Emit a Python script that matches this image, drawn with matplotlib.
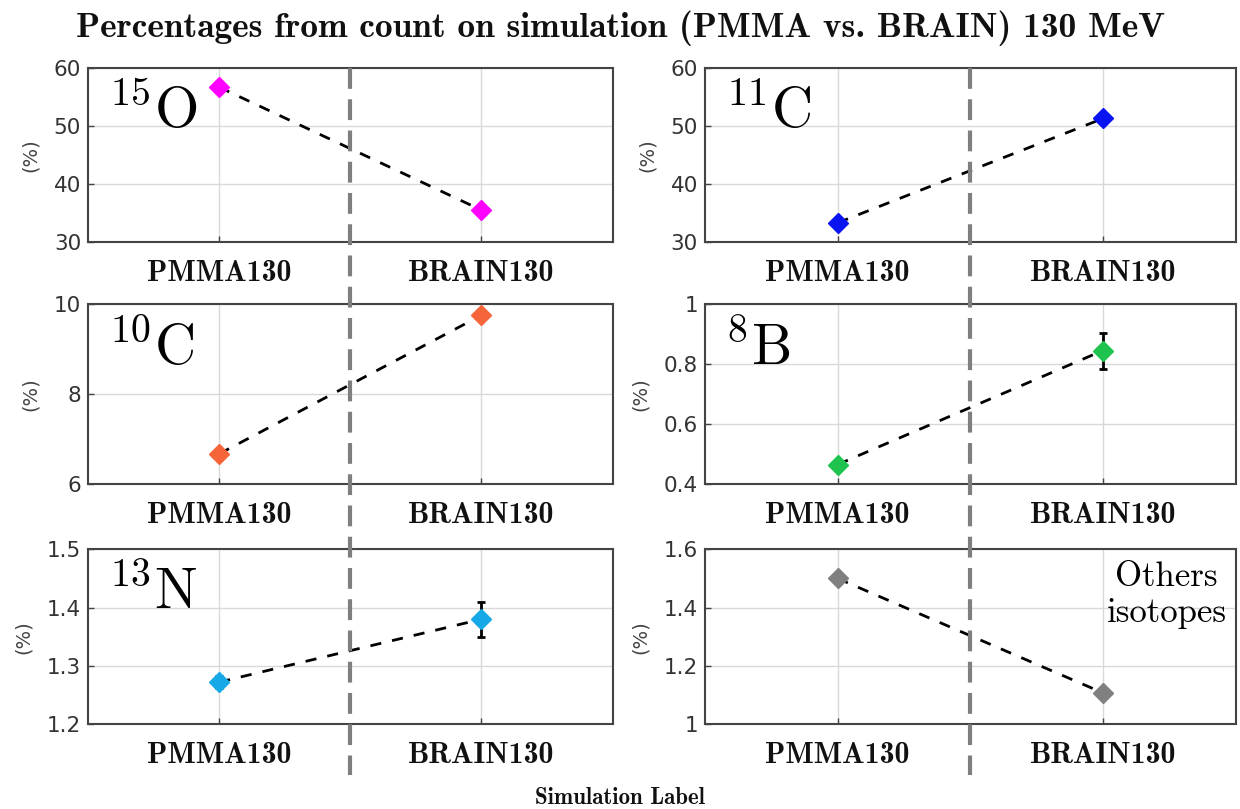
import numpy as np
import matplotlib
matplotlib.use("Agg")
import matplotlib.pyplot as plt
from matplotlib.lines import Line2D
from matplotlib.transforms import blended_transform_factory

plt.rcParams['mathtext.fontset'] = 'cm'
plt.rcParams['font.family'] = 'DejaVu Sans'

labels = ['PMMA130', 'BRAIN130']
isotopes = [r'${}^{15}\mathrm{O}$', r'${}^{11}\mathrm{C}$', r'${}^{10}\mathrm{C}$',
            r'${}^{8}\mathrm{B}$', r'${}^{13}\mathrm{N}$', 'Others\nisotopes']

o15 = [56.7, 35.5]
c11 = [33.3, 51.3]
c10 = [6.67, 9.75]
b8 = [0.465, 0.845]
n13 = [1.272, 1.38]
others = [1.50, 1.107]

o15_err = [0.0, 0.0]
c11_err = [0.0, 0.0]
c10_err = [0.0, 0.0]
b8_err = [0.01, 0.06]
n13_err = [0.01, 0.03]
others_err = [0.0, 0.0]

values = [o15, c11, c10, b8, n13, others]
errors = [o15_err, c11_err, c10_err, b8_err, n13_err, others_err]
colors = ['#ff00ff', '#0a14f0', '#f6643a', '#1fc44e', '#16a9e8', '#808080']
ylims = [(30, 60), (30, 60), (6, 10), (0.4, 1), (1.2, 1.5), (1, 1.6)]
yticks = [[30, 40, 50, 60], [30, 40, 50, 60], [6, 8, 10],
          [0.4, 0.6, 0.8, 1], [1.2, 1.3, 1.4, 1.5], [1, 1.2, 1.4, 1.6]]
ytick_labels = [['30', '40', '50', '60'], ['30', '40', '50', '60'], ['6', '8', '10'],
                ['0.4', '0.6', '0.8', '1'], ['1.2', '1.3', '1.4', '1.5'], ['1', '1.2', '1.4', '1.6']]

fig = plt.figure(figsize=(12.4, 8.09), dpi=100)

# axes boxes in figure fractions: [left, bottom, width, height]
cols = [(0.071, 0.423), (0.5685, 0.428)]
rows = [(0.7009, 0.215), (0.4017, 0.2225), (0.105, 0.216)]

x = np.array([1, 2])
axes = []
for i in range(6):
    r, c = divmod(i, 2)
    ax = fig.add_axes([cols[c][0], rows[r][0], cols[c][1], rows[r][1]])
    axes.append(ax)
    ax.plot(x, values[i], '--', color='black', lw=2, dashes=(4, 4), zorder=3)
    ax.errorbar(x, values[i], yerr=errors[i], fmt='D', color=colors[i], ms=10,
                ecolor='black', elinewidth=2, capsize=3, capthick=2, zorder=4)
    ax.set_xlim(0.5, 2.5)
    ax.set_ylim(*ylims[i])
    ax.set_xticks(x)
    ax.set_xticklabels(labels, fontfamily='cmb10', fontsize=21.5, color='#111111')
    ax.set_yticks(yticks[i])
    ax.set_yticklabels(ytick_labels[i], fontsize=15.5, color='#333333')
    ax.tick_params(axis='both', direction='in', length=4, color='#444444', width=1)
    ax.tick_params(axis='x', pad=13)
    ax.tick_params(axis='y', pad=5)
    ax.grid(True, color='#d9d9d9', lw=1)
    ax.set_axisbelow(True)
    for s in ax.spines.values():
        s.set_color('#444444')
        s.set_linewidth(1.5)
    ax.set_ylabel('(%)', fontsize=14, color='#444444', labelpad=10)
    if i < 5:
        ax.text(0.038, 0.9, isotopes[i], transform=ax.transAxes, fontsize=41,
                va='top', ha='left', color='black')
    else:
        ax.text(0.87, 0.93, isotopes[i], transform=ax.transAxes, fontfamily='cmr10',
                fontsize=25, va='top', ha='center', color='black', linespacing=1.15)

# separator between the two simulations, running through each column
for ax in axes[:2]:
    tr = blended_transform_factory(ax.transData, fig.transFigure)
    fig.add_artist(Line2D([1.5, 1.5], [0.916, 0.042], transform=tr, color='#7f7f7f',
                          lw=3, ls=(0, (5, 2.5)), zorder=5))

fig.text(0.5, 0.965, 'Percentages from count on simulation (PMMA vs. BRAIN) 130 MeV',
         fontfamily='cmb10', fontsize=25.5, ha='center', va='center', color='#111111')
fig.text(0.5, 0.014, 'Simulation Label', fontfamily='cmb10', fontsize=16.5,
         ha='center', va='center', color='#111111')

fig.savefig('out.png', dpi=100)
